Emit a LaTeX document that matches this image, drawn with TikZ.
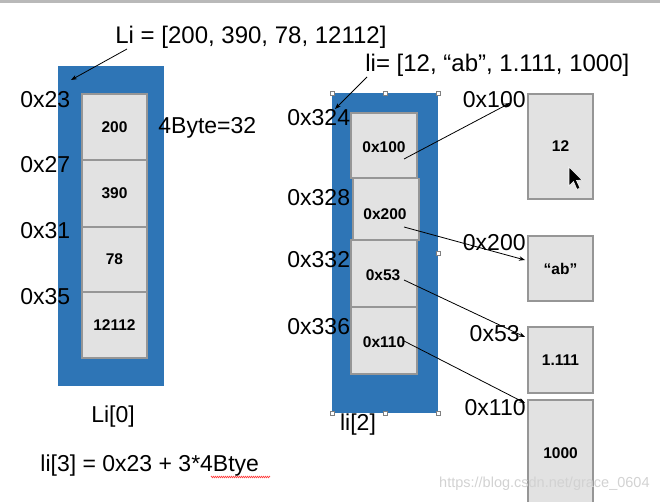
\documentclass[tikz,border=0pt]{standalone}
\usepackage{fontspec}
\setmainfont{Liberation Sans}
\usetikzlibrary{arrows.meta,decorations.pathmorphing}
\definecolor{slotblue}{RGB}{46,117,182}
\definecolor{cellgray}{RGB}{226,226,226}
\definecolor{celledge}{RGB}{150,150,150}

\begin{document}
\begin{tikzpicture}[x=1pt, y=-1pt, >={Stealth[length=6pt,width=4.5pt]}, thick,
  block/.style={fill=slotblue, draw=none, inner sep=0pt},
  cell/.style={fill=cellgray, draw=celledge, line width=1.2pt, inner sep=0pt, font=\fontsize{15.5}{18}\selectfont\bfseries},
  ptr/.style={font=\fontsize{15.5}{18}\selectfont\bfseries, inner sep=0pt},
  addr/.style={font=\fontsize{23}{26}\selectfont, inner sep=0pt},
  handle/.style={draw=gray, fill=white, line width=0.5pt, minimum size=4pt, inner sep=0pt}]

    \useasboundingbox (0,0) rectangle (660,502);
    \fill[gray!55] (0,0) rectangle (660,3);

    % left list
    \node[block, minimum width=106pt, minimum height=320pt] at (111,226) (Lblock) {};
    \node[cell, minimum width=65pt, minimum height=66pt] at (114.5,127) (a1) {200};
    \node[cell, minimum width=65pt, minimum height=67pt] at (114.5,193.5) (a2) {390};
    \node[cell, minimum width=65pt, minimum height=65pt] at (114.5,259.5) (a3) {78};
    \node[cell, minimum width=65pt, minimum height=66pt] at (114.5,325) (a4) {12112};

    \node[addr, anchor=west, font=\fontsize{24}{27}\selectfont] at (115,37) (Ltitle) {Li = [200, 390, 78, 12112]};
    \node[addr, anchor=west] at (20,100) (ad1) {0x23};
    \node[addr, anchor=west] at (20,165) (ad2) {0x27};
    \node[addr, anchor=west] at (20,231) (ad3) {0x31};
    \node[addr, anchor=west] at (20,297) (ad4) {0x35};
    \node[addr, anchor=west] at (158,128) (size) {4Byte=32};
    \node[addr] at (113,417) (Lname) {Li[0]};
    \node[addr, anchor=west] at (40,466) (Lformula) {li[3] = 0x23 + 3*4Btye};
    \draw[red!75, line width=0.6pt, decorate, decoration={zigzag, amplitude=0.8pt, segment length=2pt}] (211,477) -- (270,477);

    \coordinate (Lfrom) at (127,49);
    \coordinate (Lto) at (71,80);
    \path[->] (Lfrom) edge (Lto);

    % right list
    \node[block, minimum width=106pt, minimum height=320pt] at (385,253) (Rblock) {};
    \foreach \hx/\hy in {332/93, 385/93, 438/93, 438/253, 332/413, 385/413, 438/413}
        \node[handle] at (\hx,\hy) {};
    \node[cell, minimum width=66pt, minimum height=65pt] at (384,145.5) (b1) {};
    \node[cell, minimum width=66pt, minimum height=62pt] at (386,209.5) (b2) {};
    \node[cell, minimum width=66pt, minimum height=67pt] at (384,273.5) (b3) {};
    \node[cell, minimum width=66pt, minimum height=67pt] at (384,340.5) (b4) {};
    \node[ptr] at (384,147) (p1) {0x100};
    \node[ptr] at (385,214) (p2) {0x200};
    \node[ptr] at (383,275) (p3) {0x53};
    \node[ptr] at (384,342) (p4) {0x110};

    \node[addr, anchor=west, font=\fontsize{24}{27}\selectfont] at (365,65) (Rtitle) {li= [12, “ab”, 1.111, 1000]};
    \node[addr, anchor=west] at (287,118) (rd1) {0x324};
    \node[addr, anchor=west] at (287,198) (rd2) {0x328};
    \node[addr, anchor=west] at (287,260) (rd3) {0x332};
    \node[addr, anchor=west] at (287,327) (rd4) {0x336};
    \node[addr] at (358,425) (Rname) {li[2]};

    \coordinate (Rfrom) at (367,77);
    \coordinate (Rto) at (335,109);
    \path[->] (Rfrom) edge (Rto);

    % objects
    \node[cell, minimum width=65pt, minimum height=105pt] at (560.5,146.5) (o1) {12};
    \node[cell, minimum width=65pt, minimum height=65pt] at (560.5,268.5) (o2) {“ab”};
    \node[cell, minimum width=65pt, minimum height=66pt] at (560.5,360) (o3) {1.111};
    \node[cell, minimum width=65pt, minimum height=110pt] at (560.5,455) (o4) {};
    \node[ptr] at (560.5,453) (o4text) {1000};

    \node[addr, anchor=east] at (526,100) (od1) {0x100};
    \node[addr, anchor=east] at (526,243) (od2) {0x200};
    \node[addr, anchor=east] at (520,334) (od3) {0x53};
    \node[addr, anchor=east] at (526,408) (od4) {0x110};

    % mouse pointer
    \filldraw[fill=black, draw=white, line width=0.6pt] (569,167) -- (569,186) -- (573.5,181.5) -- (577,189.5) -- (580,188) -- (576.5,180.5) -- (582,180) -- cycle;

    % pointers
    \coordinate (q1) at (404,159);
    \coordinate (q2) at (404,227);
    \coordinate (q3) at (404,280);
    \coordinate (q4) at (404,341);
    \coordinate (t1) at (510,103);
    \coordinate (t2) at (525,260);
    \coordinate (t3) at (525,337);
    \coordinate (t4) at (525,403);
    \path[->] (q1) edge (t1);
    \path[->] (q2) edge (t2);
    \path[->] (q3) edge (t3);
    \path[->] (q4) edge (t4);

    \node[font=\fontsize{14.5}{16}\selectfont, text=gray!35, anchor=east, inner sep=0pt] at (650,484) (mark) {https://blog.csdn.net/grace\_0604};

\end{tikzpicture}
\end{document}
